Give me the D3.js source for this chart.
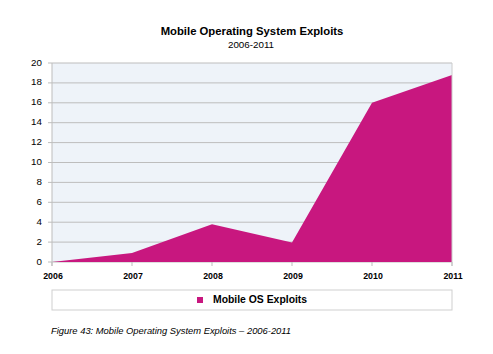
<!DOCTYPE html>
<html>
<head>
<meta charset="utf-8">
<script src="https://cdn.jsdelivr.net/npm/d3@7"></script>
<style>
  body { margin: 0; background: #fff; }
  text { font-family: "Liberation Sans", Arial, sans-serif; }
</style>
</head>
<body>
<div id="canvas"></div>
<script>
"use strict"
let svgWidth = 493;
let svgHeight = 354;

// chart values
let years = [2006, 2007, 2008, 2009, 2010, 2011];
let exploits = [0, 0.9, 3.8, 1.95, 16, 18.8];
let yTicks = [0, 2, 4, 6, 8, 10, 12, 14, 16, 18, 20];
let seriesName = "Mobile OS Exploits";

let marginLeft = 52;
let plotRight = 452;
let plotTop = 63;
let plotBottom = 262;

let svg = d3.select("#canvas")
    .append("svg")
    .attr("width", svgWidth)
    .attr("height", svgHeight);

let xScale = d3.scaleLinear()
    .domain([2006, 2011])
    .range([marginLeft, plotRight]);
let yScale = d3.scaleLinear()
    .domain([0, 20])
    .range([plotBottom, plotTop]);

// Titles
svg.append("text")
    .attr("x", 252)
    .attr("y", 35)
    .attr("text-anchor", "middle")
    .attr("font-size", 11.3)
    .attr("font-weight", "bold")
    .text("Mobile Operating System Exploits");
svg.append("text")
    .attr("x", 251)
    .attr("y", 48)
    .attr("text-anchor", "middle")
    .attr("font-size", 9.8)
    .text("2006-2011");

// plot background
svg.append("rect")
    .attr("x", marginLeft)
    .attr("y", plotTop)
    .attr("width", plotRight - marginLeft)
    .attr("height", plotBottom - plotTop)
    .attr("fill", "#eef3f9");

// gridlines + y tick labels
for (let i = 0; i < yTicks.length; i++) {
    let y = yScale(yTicks[i]);
    svg.append("line")
        .attr("x1", marginLeft - 4)
        .attr("x2", plotRight)
        .attr("y1", y)
        .attr("y2", y)
        .attr("stroke", "#bdbdbd")
        .attr("stroke-width", 1);
    svg.append("text")
        .attr("x", 42)
        .attr("y", y)
        .attr("text-anchor", "end")
        .attr("dominant-baseline", "middle")
        .attr("font-size", 9.8)
        .text(yTicks[i]);
}

// area
let area = d3.area()
    .x(function(d, i) { return xScale(years[i]); })
    .y0(plotBottom)
    .y1(function(d) { return yScale(d); });

svg.append("path")
    .datum(exploits)
    .attr("d", area)
    .attr("fill", "#c8177f");

// frame lines
svg.append("line")
    .attr("x1", marginLeft).attr("x2", marginLeft)
    .attr("y1", plotTop).attr("y2", plotBottom + 4)
    .attr("stroke", "#bdbdbd");
svg.append("line")
    .attr("x1", plotRight).attr("x2", plotRight)
    .attr("y1", plotTop).attr("y2", plotBottom + 4)
    .attr("stroke", "#cccccc");

// x ticks and labels
for (let i = 0; i < years.length; i++) {
    let x = xScale(years[i]);
    svg.append("line")
        .attr("x1", x).attr("x2", x)
        .attr("y1", plotBottom)
        .attr("y2", plotBottom + 4)
        .attr("stroke", "#bdbdbd");
    svg.append("text")
        .attr("x", x + 1)
        .attr("y", 279)
        .attr("text-anchor", "middle")
        .attr("font-size", 8.8)
        .attr("font-weight", "bold")
        .text(years[i]);
}

// legend
svg.append("rect")
    .attr("x", marginLeft)
    .attr("y", 290)
    .attr("width", plotRight - marginLeft)
    .attr("height", 20)
    .attr("fill", "#fff")
    .attr("stroke", "#cfcfcf")
    .attr("stroke-width", 1);
svg.append("rect")
    .attr("x", 197)
    .attr("y", 297)
    .attr("width", 6)
    .attr("height", 6)
    .attr("fill", "#c8177f");
svg.append("text")
    .attr("x", 213)
    .attr("y", 300.5)
    .attr("dominant-baseline", "middle")
    .attr("font-size", 10.4)
    .attr("font-weight", "bold")
    .text(seriesName);

// caption
svg.append("text")
    .attr("x", 51)
    .attr("y", 334)
    .attr("font-size", 9.4)
    .attr("font-style", "italic")
    .text("Figure 43: Mobile Operating System Exploits \u2013 2006-2011");
</script>
</body>
</html>
